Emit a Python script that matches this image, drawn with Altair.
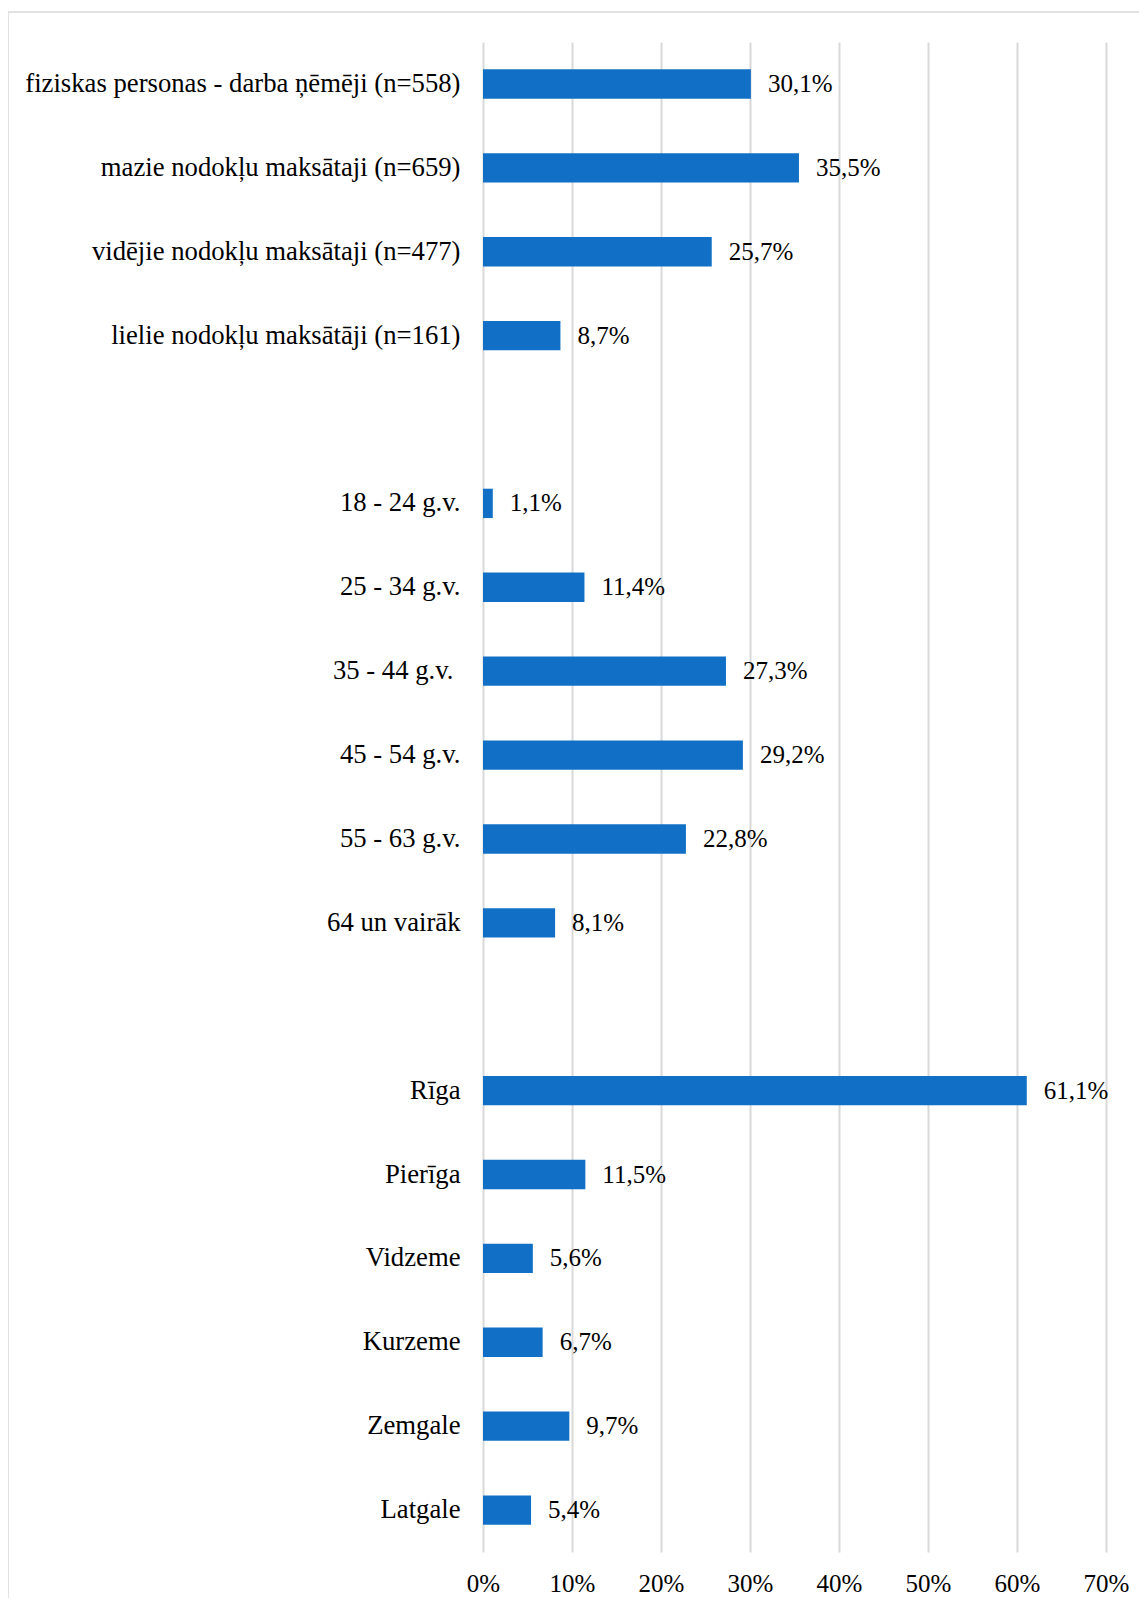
import altair as alt
import pandas as pd

categories = [
    "fiziskas personas - darba ņēmēji (n=558)",
    "mazie nodokļu maksātaji (n=659)",
    "vidējie nodokļu maksātaji (n=477)",
    "lielie nodokļu maksātāji (n=161)",
    "18 - 24 g.v.",
    "25 - 34 g.v.",
    "35 - 44 g.v. ",
    "45 - 54 g.v.",
    "55 - 63 g.v.",
    "64 un vairāk",
    "Rīga",
    "Pierīga",
    "Vidzeme",
    "Kurzeme",
    "Zemgale",
    "Latgale",
]
values = [30.1, 35.5, 25.7, 8.7, 1.1, 11.4, 27.3, 29.2, 22.8, 8.1,
          61.1, 11.5, 5.6, 6.7, 9.7, 5.4]
tick_values = [0, 10, 20, 30, 40, 50, 60, 70]

order = categories[:4] + ["gap1"] + categories[4:10] + ["gap2"] + categories[10:]

df = pd.DataFrame({"cat": categories, "value": values})
df["label"] = [f"{v:.1f}".replace(".", ",") + "%" for v in values]

FONT = "Liberation Serif"
BAR = "#1170C6"
GRID = "#d9d9d9"

y_scale = alt.Scale(domain=order, paddingInner=0.65, paddingOuter=0.325)
x_scale = alt.Scale(domain=[0, 70], nice=False)

y_axis = alt.Axis(
    title=None,
    labelExpr="indexof(datum.label,'gap')==0 ? '' : datum.label",
    labelFontSize=26.7,
    labelFont=FONT,
    labelColor="black",
    labelPadding={
        "condition": {"test": "datum.value == '35 - 44 g.v. '", "value": 30},
        "value": 23,
    },
    labelLimit=800,
    domain=False,
    ticks=False,
    tickSize=0,
    grid=False,
)
x_axis = alt.Axis(
    title=None,
    values=tick_values,
    labelExpr="datum.value + '%'",
    labelFontSize=25,
    labelFont=FONT,
    labelColor="black",
    labelPadding=39,
    labelBaseline="alphabetic",
    labelFlush=False,
    labelOverlap=False,
    domain=False,
    ticks=False,
    tickSize=0,
    grid=True,
    gridColor=GRID,
    gridWidth=2,
)

base = alt.Chart(df)
bars = base.mark_bar(color=BAR).encode(
    x=alt.X("value:Q", scale=x_scale, axis=x_axis),
    y=alt.Y("cat:N", scale=y_scale, axis=y_axis),
)
labels = base.mark_text(
    align="left", baseline="middle", dx=17, fontSize=25, font=FONT, color="black"
).encode(
    x=alt.X("value:Q", scale=x_scale, axis=x_axis),
    y=alt.Y("cat:N", scale=y_scale, axis=y_axis),
    text="label:N",
)

frame_data = alt.Data(values=[{"k": 1}])
top_border = alt.Chart(frame_data).mark_rule(color=GRID, strokeWidth=1.5).encode(
    x=alt.value(-475), x2=alt.value(700), y=alt.value(-30)
)
left_border = alt.Chart(frame_data).mark_rule(color=GRID, strokeWidth=1.5).encode(
    x=alt.value(-475), y=alt.value(-30), y2=alt.value(1700)
)

chart = (
    alt.layer(bars, labels, top_border, left_border)
    .properties(
        width=623,
        height=1510,
        autosize=alt.AutoSizeParams(type="none"),
        padding={"left": 475, "top": 34, "right": 33, "bottom": 46},
    )
    .configure(font=FONT, background="white")
    .configure_view(stroke=None, strokeWidth=0)
)

chart.save("out.html", embed_options={"renderer": "svg", "actions": False})
